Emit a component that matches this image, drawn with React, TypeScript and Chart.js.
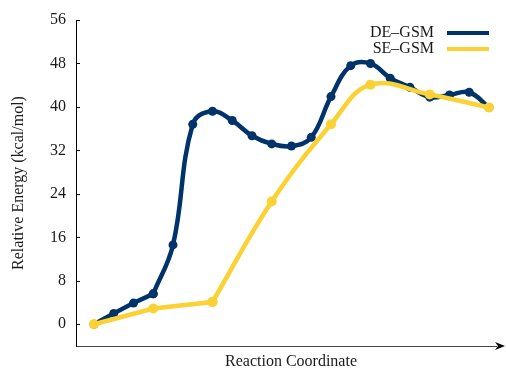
import React, { useEffect, useRef } from 'react';
import { Chart, registerables } from 'chart.js';

Chart.register(...registerables);

const DE_X = [0, 1, 2, 3, 4, 5, 6, 7, 8, 9, 10, 11, 12, 13, 14, 15, 16, 17, 18, 19, 20];
const DE_Y = [0, 2.0, 3.9, 5.6, 14.6, 36.8, 39.2, 37.5, 34.7, 33.2, 32.8, 34.4, 41.9, 47.6, 48.0, 45.3, 43.6, 41.8, 42.2, 42.7, 39.9];
const SE_X = [0, 3, 6, 9, 12, 14, 17, 20];
const SE_Y = [0, 2.9, 4.1, 22.6, 36.8, 44.1, 42.3, 39.9];
// index where each path switches from straight segments to a smooth curve
const DE_SPLIT = 3;
const SE_SPLIT = 2;
const Y_TICKS = [0, 8, 16, 24, 32, 40, 48, 56];
const SERIES_LABELS = ['DE\u2013GSM', 'SE\u2013GSM'];
const X_TITLE = 'Reaction Coordinate';
const Y_TITLE = 'Relative Energy (kcal/mol)';

const FONT = "'Liberation Serif', 'DejaVu Serif', serif";
const DE_COLOR = '#00336a';
const SE_COLOR = '#fbd133';
const TEXT = '#1a1a1a';

const decorPlugin = {
  id: 'decor',
  afterDraw(chart: any) {
    const ctx = chart.ctx;
    const area = chart.chartArea;
    const ys = chart.scales.y;
    ctx.save();
    ctx.strokeStyle = '#000';
    ctx.lineWidth = 1;
    ys.ticks.forEach((t: any) => {
      const py = Math.round(ys.getPixelForValue(t.value)) + 0.5;
      ctx.beginPath();
      ctx.moveTo(area.left, py);
      ctx.lineTo(area.left + 4, py);
      ctx.stroke();
    });
    const bx = area.right;
    const by = area.bottom;
    ctx.fillStyle = '#000';
    ctx.beginPath();
    ctx.moveTo(bx + 9, by);
    ctx.lineTo(bx - 1, by - 4);
    ctx.lineTo(bx + 2, by);
    ctx.lineTo(bx - 1, by + 4);
    ctx.closePath();
    ctx.fill();
    ctx.font = `16px ${FONT}`;
    ctx.textBaseline = 'middle';
    ctx.textAlign = 'center';
    ctx.fillStyle = TEXT;
    ctx.fillText(X_TITLE, 291, 362);
    ctx.textAlign = 'right';
    chart.data.datasets.forEach((ds: any) => {
      if (ds.legendIndex === undefined) return;
      const ly = 33 + ds.legendIndex * 16;
      ctx.fillStyle = TEXT;
      ctx.fillText(ds.label, 434, ly);
      ctx.strokeStyle = ds.borderColor;
      ctx.lineWidth = 4;
      ctx.beginPath();
      ctx.moveTo(447, ly);
      ctx.lineTo(489, ly);
      ctx.stroke();
    });
    ctx.restore();
  },
};

function seg(label: string, xs: number[], ys: number[], from: number, to: number, tension: number, color: string, radius: number, order: number, legendIndex?: number) {
  const data = [];
  for (let i = from; i <= to; i++) data.push({ x: xs[i], y: ys[i] });
  return {
    label,
    legendIndex,
    data,
    borderColor: color,
    backgroundColor: color,
    pointBackgroundColor: color,
    pointBorderWidth: 0,
    pointRadius: radius,
    borderWidth: 4.5,
    tension,
    order,
  } as any;
}

export default function App() {
  const ref = useRef<HTMLCanvasElement | null>(null);
  useEffect(() => {
    if (!ref.current) return;
    const chart = new Chart(ref.current, {
      type: 'line',
      data: {
        datasets: [
          seg(SERIES_LABELS[0], DE_X, DE_Y, DE_SPLIT, DE_X.length - 1, 0.4, DE_COLOR, 4.5, 3, 0),
          seg(SERIES_LABELS[0], DE_X, DE_Y, 0, DE_SPLIT, 0, DE_COLOR, 4.5, 2),
          seg(SERIES_LABELS[1], SE_X, SE_Y, SE_SPLIT, SE_X.length - 1, 0.4, SE_COLOR, 5, 1, 1),
          seg(SERIES_LABELS[1], SE_X, SE_Y, 0, SE_SPLIT, 0, SE_COLOR, 5, 0),
        ],
      },
      options: {
        animation: false,
        responsive: true,
        maintainAspectRatio: false,
        layout: { padding: { top: 20, right: 10, left: 0, bottom: 0 } },
        plugins: { legend: { display: false }, tooltip: { enabled: false } },
        scales: {
          x: {
            type: 'linear',
            min: -0.911,
            max: 20.355,
            grid: { display: false },
            border: { display: true, color: '#444', width: 1 },
            ticks: { display: false },
            title: { display: false, text: X_TITLE },
            afterFit: (s: any) => { s.height = 23; },
          },
          y: {
            type: 'linear',
            min: -4,
            max: 56,
            grid: { display: false, drawTicks: false },
            border: { display: true, color: '#000', width: 1 },
            ticks: {
              color: TEXT,
              padding: 10,
              font: { family: FONT, size: 16 },
            },
            afterBuildTicks: (s: any) => { s.ticks = Y_TICKS.map((v) => ({ value: v })); },
            title: {
              display: true,
              text: Y_TITLE,
              color: TEXT,
              font: { family: FONT, size: 16, lineHeight: 0.875 },
              padding: { top: 12, bottom: 0 },
            },
            afterFit: (s: any) => { s.width = 76; },
          },
        },
      } as any,
      plugins: [decorPlugin],
    });
    return () => chart.destroy();
  }, []);
  return (
    <div style={{ position: 'absolute', left: 0, top: 0, width: 506, height: 369 }}>
      <canvas ref={ref} />
    </div>
  );
}
